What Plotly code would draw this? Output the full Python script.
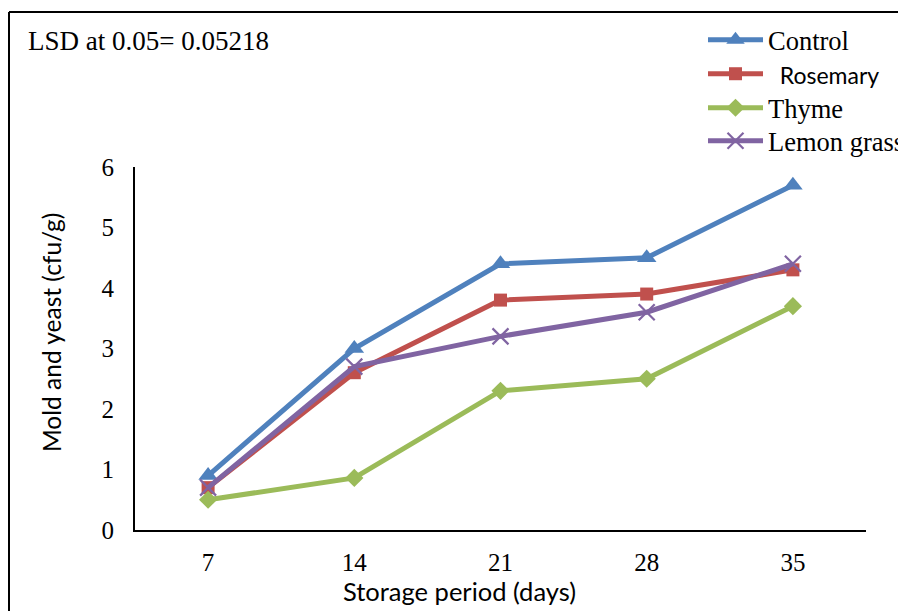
import plotly.graph_objects as go

days = [7, 14, 21, 28, 35]
control = [0.9, 3.0, 4.4, 4.5, 5.7]
rosemary = [0.7, 2.6, 3.8, 3.9, 4.3]
thyme = [0.5, 0.86, 2.3, 2.5, 3.7]
lemon_grass = [0.7, 2.7, 3.2, 3.6, 4.4]
y_ticks = [0, 1, 2, 3, 4, 5, 6]

# page has an 8px body margin; work in reference-picture pixels and shift
OFF = 8
W, H = 906 - OFF, 611 - OFF
L, R, T, B = 135 - OFF, 40, 167 - OFF, 81
pw, ph = W - L - R, H - T - B

def px(x):
    return (x - OFF - L) / pw

def py(y):
    return (H - B - (y - OFF)) / ph

serif = "Liberation Serif, Times New Roman, serif"
sans = "Lato, Liberation Sans, Arial, sans-serif"

series = [
    ("Control", control, "#4F81BD", dict(symbol="triangle-up", size=17)),
    ("<span style='font-family:Lato;font-size:23px'>\u00a0\u00a0Rosemary</span>", rosemary, "#C0504D", dict(symbol="square", size=13)),
    ("Thyme", thyme, "#9BBB59", dict(symbol="diamond", size=14)),
    ("Lemon grass", lemon_grass, "#8064A2", dict(symbol="x-thin-open", size=16, line=dict(width=2.2))),
]
legend_rows = [40, 74, 108, 141]
legend_ids = ["legend", "legend2", "legend3", "legend4"]

fig = go.Figure()
for i, (name, vals, color, mk) in enumerate(series):
    m = dict(color=color, **mk)
    if "line" in m:
        m["line"] = dict(color=color, width=mk["line"]["width"])
    fig.add_trace(go.Scatter(
        x=days, y=vals, name=name, mode="lines+markers",
        line=dict(color=color, width=5), marker=m, legend=legend_ids[i],
    ))

legend_common = dict(
    xanchor="left", yanchor="middle",
    font=dict(family=serif, size=26.5, color="black"),
    itemwidth=55, bgcolor="rgba(0,0,0,0)",
)
legends = {}
for lid, row in zip(legend_ids, legend_rows):
    legends[lid] = dict(x=px(703), y=py(row), **legend_common)

fig.update_layout(
    autosize=False,
    width=W, height=H,
    margin=dict(l=L, r=R, t=T, b=B, autoexpand=False),
    paper_bgcolor="white", plot_bgcolor="white",
    font=dict(family=serif, size=25, color="black"),
    showlegend=True,
    **legends,
    xaxis=dict(
        range=[3.5, 38.5], tickvals=days, ticktext=[str(d) for d in days],
        showgrid=False, zeroline=False, showline=True, linecolor="black", linewidth=2,
        ticks="", ticklabelstandoff=9, tickfont=dict(family=serif, size=25),
    ),
    yaxis=dict(
        range=[0, 6], tickvals=y_ticks, showgrid=False, zeroline=False,
        showline=True, linecolor="black", linewidth=2, ticks="",
        ticklabelstandoff=14, tickfont=dict(family=serif, size=25),
    ),
    shapes=[
        dict(type="line", xref="paper", yref="paper", x0=px(9), x1=px(906), y0=py(12), y1=py(12),
             line=dict(color="black", width=2)),
        dict(type="line", xref="paper", yref="paper", x0=px(9), x1=px(9), y0=py(12), y1=py(611),
             line=dict(color="black", width=2)),
    ],
    annotations=[
        dict(text="LSD at 0.05= 0.05218", xref="paper", yref="paper", x=px(26), y=py(41),
             xanchor="left", yanchor="middle", showarrow=False, font=dict(family=serif, size=27)),
        dict(text="Mold and yeast (cfu/g)", xref="paper", yref="paper", x=px(51), y=py(333),
             xanchor="center", yanchor="middle", textangle=-90, showarrow=False,
             font=dict(family=sans, size=24.5)),
        dict(text="Storage period (days)", xref="paper", yref="paper", x=px(459), y=py(591),
             xanchor="center", yanchor="middle", showarrow=False, font=dict(family=sans, size=25.5)),
    ],
)

fig.write_html("out.html")
